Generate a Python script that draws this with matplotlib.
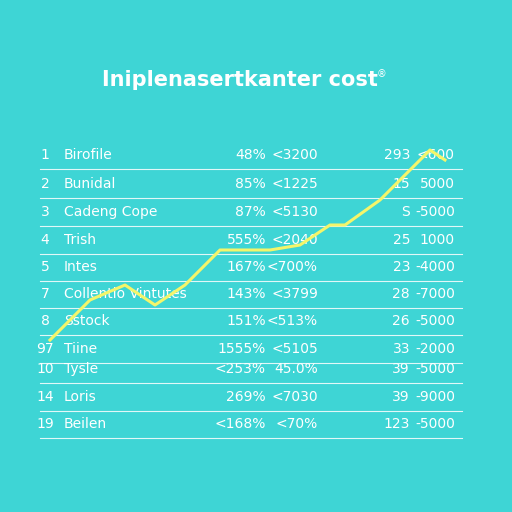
import matplotlib.pyplot as plt

BG = "#3ed5d5"
TITLE = "Iniplenasertkanter cost"

row_ids = ["1", "2", "3", "4", "5", "7", "8", "97", "10", "14", "19"]
row_names = ["Birofile", "Bunidal", "Cadeng Cope", "Trish", "Intes", "Collentio Vintutes",
             "Sstock", "Tiine", "Tysle", "Loris", "Beilen"]
pct_col = ["48%", "85%", "87%", "555%", "167%", "143%", "151%", "1555%", "<253%", "269%", "<168%"]
val_col = ["<3200", "<1225", "<5130", "<2040", "<700%", "<3799", "<513%", "<5105", "45.0%", "<7030", "<70%"]
num_col = ["293", "15", "S", "25", "23", "28", "26", "33", "39", "39", "123"]
amt_col = ["<600", "5000", "-5000", "1000", "-4000", "-7000", "-5000", "-2000", "-5000", "-9000", "-5000"]
row_y = [155, 184, 212, 240, 267, 294, 321, 349, 369, 397, 424]

# trend line (x, y in picture units)
trend_x = [50, 90, 125, 155, 185, 220, 270, 300, 330, 345, 380, 395, 430, 445]
trend_y = [340, 300, 285, 305, 285, 250, 250, 245, 225, 225, 200, 185, 150, 160]

fig = plt.figure(figsize=(5.12, 5.12), dpi=100, facecolor=BG)
ax = fig.add_axes([0, 0, 1, 1])
ax.set_facecolor(BG)
ax.set_xlim(0, 512)
ax.set_ylim(512, 0)
ax.axis("off")

ax.text(240, 80, TITLE, color="white", fontsize=15, fontweight="bold", ha="center", va="center")
ax.text(382, 74, "®", color="white", fontsize=7, ha="center", va="center")

for i, y in enumerate(row_y):
    kw = dict(color="white", fontsize=10, va="center")
    ax.text(45, y, row_ids[i], ha="center", **kw)
    ax.text(64, y, row_names[i], ha="left", **kw)
    ax.text(266, y, pct_col[i], ha="right", **kw)
    ax.text(318, y, val_col[i], ha="right", **kw)
    ax.text(410, y, num_col[i], ha="right", **kw)
    ax.text(455, y, amt_col[i], ha="right", **kw)
    ax.plot([40, 462], [y + 14, y + 14], color="white", lw=0.8, alpha=0.85)

ax.plot(trend_x, trend_y, color="#f4f56a", lw=2.2, zorder=3)

fig.savefig("out.png", dpi=100, facecolor=BG)
